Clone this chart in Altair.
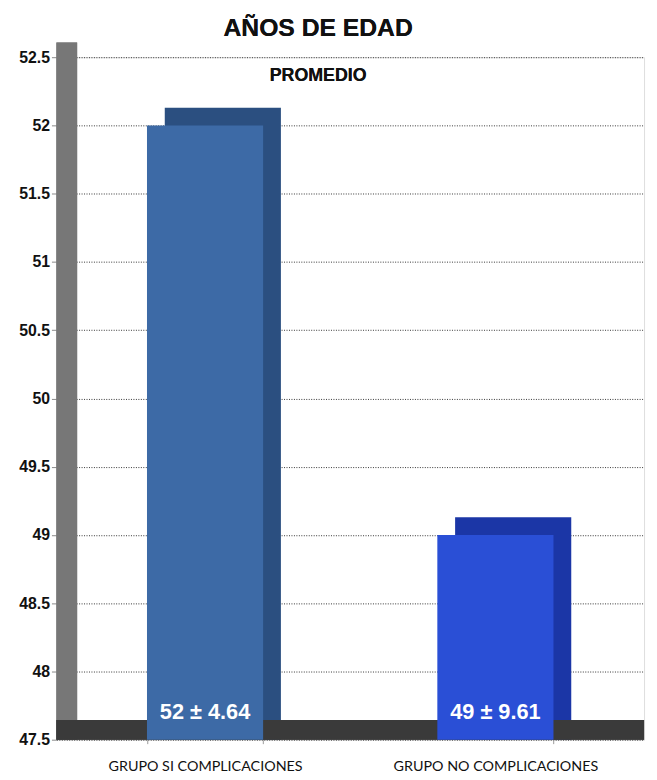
import altair as alt
import pandas as pd

categories = ["GRUPO SI COMPLICACIONES", "GRUPO NO COMPLICACIONES"]
means = [52, 49]
sds = [4.64, 9.61]
front_colors = ["#3d6aa6", "#2a4fd6"]
back_colors = ["#2b4f80", "#1b36a6"]
y_ticks = [47.5, 48, 48.5, 49, 49.5, 50, 50.5, 51, 51.5, 52, 52.5]

df = pd.DataFrame({
    "cat": categories,
    "mean": means,
    "sd": sds,
    "front": front_colors,
    "back": back_colors,
})
df["label"] = [f"{m} ± {s:.2f}" for m, s in zip(df["mean"], df["sd"])]
df["base"] = 47.5

W, H = 595, 691
y_scale = alt.Scale(domain=[47.5, 52.5], nice=False, zero=False)
x_scale = alt.Scale(domain=categories, paddingInner=0.6, paddingOuter=0.312)

x_enc = alt.X("cat:N", scale=x_scale, sort=categories, title=None,
              axis=alt.Axis(labelAngle=0, labelFont="Lato", labelFontSize=14.5,
                            labelColor="#111111", labelPadding=16, tickBand="extent",
                            labelLimit=400,
                            domain=False, ticks=True, tickColor="#999999", tickSize=4,
                            grid=False))
y_enc = alt.Y("mean:Q", scale=y_scale, title=None,
              axis=alt.Axis(values=y_ticks, format="~g",
                            labelFont="Liberation Sans", labelFontWeight="bold", labelFontSize=16,
                            labelColor="#111111", labelPadding=2, domain=False,
                            ticks=True, tickSize=5, tickColor="#888888",
                            grid=True, gridColor="#333333", gridDash=[1, 1.5], gridWidth=1))

base = alt.Chart(df)

wall = base.mark_rect(color="#777777").encode(
    x=alt.value(0), x2=alt.value(21), y=alt.value(-15), y2=alt.value(H)
)
floor = base.mark_rect(color="#3a3a3a").encode(
    x=alt.value(0), x2=alt.value(W), y=alt.value(H - 20), y2=alt.value(H)
)

back = base.mark_bar(xOffset=18, yOffset=-18).encode(
    x=x_enc, y=y_enc, y2="base:Q", color=alt.Color("back:N", scale=None)
)
front = base.mark_bar().encode(
    x="cat:N", y="mean:Q", y2="base:Q", color=alt.Color("front:N", scale=None)
)
labels = base.mark_text(color="white", font="Liberation Sans", fontWeight="bold",
                        fontSize=22, baseline="middle", dy=-28).encode(
    x="cat:N", y="base:Q", text="label:N"
)

title = base.mark_text(font="Liberation Sans", fontWeight="bold",
                       fontSize=25, color="#111111", baseline="middle").encode(
    x=alt.value(265), y=alt.value(-29), text=alt.value("AÑOS DE EDAD")
)
sub = base.mark_text(font="Liberation Sans", fontWeight="bold", fontSize=18,
                     color="#111111", baseline="middle").encode(
    x=alt.value(265), y=alt.value(19), text=alt.value("PROMEDIO")
)

chart = alt.layer(back, wall, floor, front, labels, title, sub).properties(
    width=W, height=H,
    autosize=alt.AutoSizeParams(type="none"),
    padding={"left": 49, "top": 45, "right": 5, "bottom": 36},
).configure_view(stroke=None).configure(background="white")

chart.save("out.html", embed_options={"renderer": "svg", "actions": False})
